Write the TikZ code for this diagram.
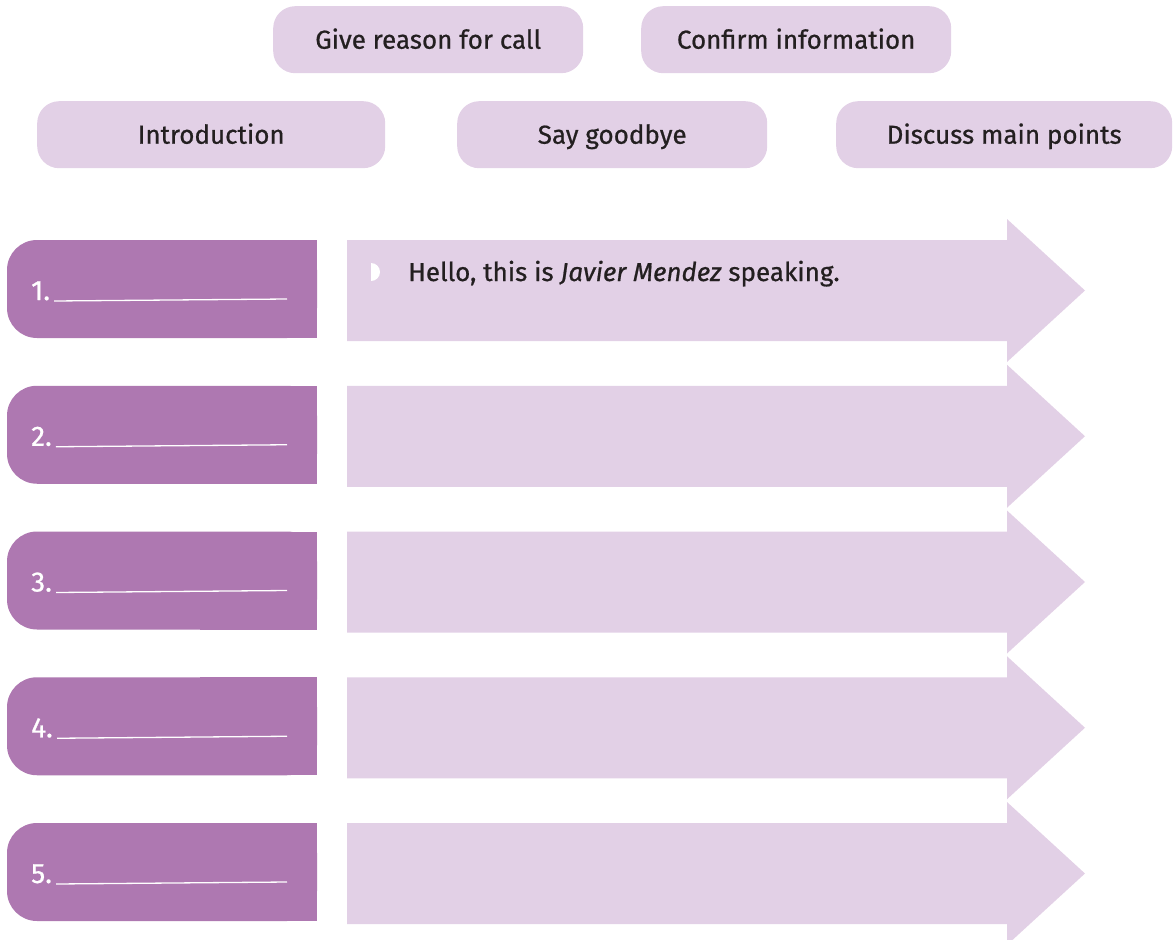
\documentclass[tikz,border=0pt]{standalone}
\usepackage{fontspec}
\setmainfont{Fira Sans}[RawFeature={embolden=0.7}]
\definecolor{darkp}{HTML}{AE78B1}
\definecolor{lightp}{HTML}{E2D0E6}
\definecolor{ink}{HTML}{231F20}
\begin{document}
\begin{tikzpicture}[x=1pt,y=-1pt,
  pill/.style={fill=lightp, rounded corners=22pt, minimum height=67pt, inner sep=0pt,
    text height=18pt, text depth=0pt,
    text=ink, font=\fontsize{26}{30}\selectfont, anchor=north west},
  numlabel/.style={text=white, font=\fontsize{28}{32}\selectfont, anchor=base west, inner sep=0pt},
  bodytext/.style={text=ink, font=\fontsize{26}{30}\selectfont, anchor=base west, inner sep=0pt}]
\useasboundingbox (0,0) rectangle (1176,940);
% word bank
\node[pill, minimum width=310pt] (reason) at (273,6) {Give reason for call};
\node[pill, minimum width=310pt] (confirm) at (641,6) {Confirm information};
\node[pill, minimum width=348pt] (intro) at (37,101) {Introduction};
\node[pill, minimum width=310pt] (bye) at (457,101) {Say goodbye};
\node[pill, minimum width=336pt] (discuss) at (836,101) {Discuss main points};
% rows
\foreach \i in {1,...,5}{
  \pgfmathsetmacro\t{240+145.75*(\i-1)}
  \fill[darkp, rounded corners=30pt] (7,\t) rectangle (317,\t+98);
  \fill[darkp] (200,\t) rectangle (317,\t+98);
  \fill[lightp] (347,\t) -- (1007,\t) -- (1007,\t-21) -- (1085,\t+50.5)
     -- (1007,\t+122) -- (1007,\t+101) -- (347,\t+101) -- cycle;
  \node[numlabel] (n\i) at (31,\t+60) {\i.};
  \coordinate (u\i) at (287,\t+59);
  \draw[white, line width=1.3pt] ([xshift=4pt,yshift=-1pt]n\i.base east) -- (u\i);
}
\fill[white] (371,263) arc[start angle=-90, end angle=90, radius=9] -- cycle;
\node[bodytext] (hello) at (408,281) {Hello, this is \textit{Javier Mendez} speaking.};
\end{tikzpicture}
\end{document}
